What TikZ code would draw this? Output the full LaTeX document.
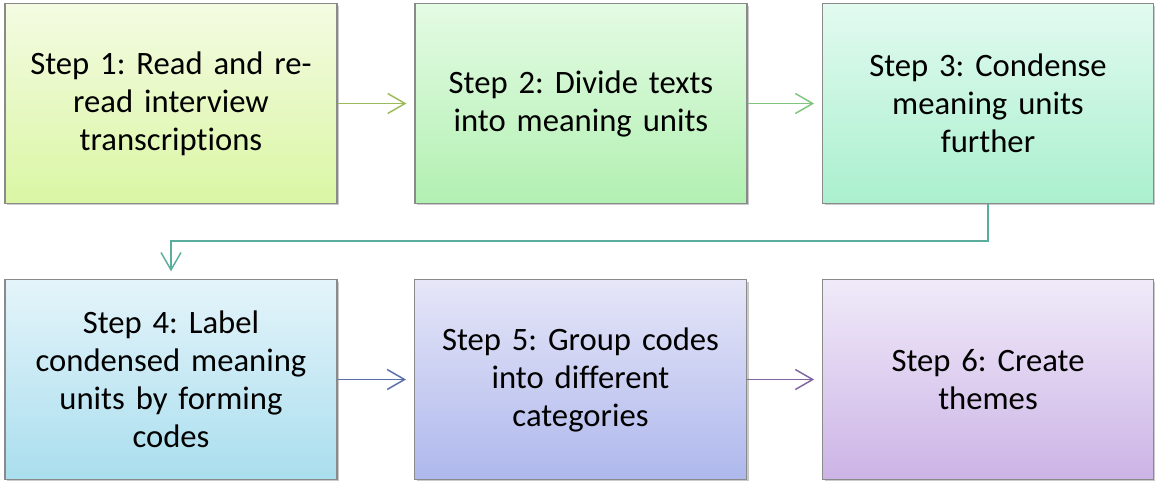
\documentclass[tikz,border=0pt]{standalone}
\usepackage{fontspec}
\setmainfont{Carlito}[Ligatures=NoCommon]
\usetikzlibrary{arrows.meta,shadows}
\definecolor{bordc}{HTML}{8A8A8A}
\definecolor{aone}{HTML}{9BBB59}
\definecolor{atwo}{HTML}{7FC47F}
\definecolor{athree}{HTML}{5BAE9E}
\definecolor{afour}{HTML}{5A6EAA}
\definecolor{afive}{HTML}{8064A2}
\tikzset{
  stepbox/.style={draw=bordc, line width=0.8pt, minimum width=249pt, minimum height=149.5pt,
    align=center, inner sep=4pt, text width=240pt,
    font=\frenchspacing\fontsize{24.5pt}{28.5pt}\selectfont,
    drop shadow={shadow xshift=1.5pt, shadow yshift=-1.5pt, opacity=0.35, fill=black!60}},
  conn/.style={line width=1.1pt, -{Straight Barb[length=13pt, width=15pt, line width=1.1pt]}}
}
\begin{document}
\begin{tikzpicture}[x=0.75pt,y=-0.75pt]
\useasboundingbox (0,0) rectangle (1156,482);
\node[stepbox, top color={rgb,255:red,244;green,251;blue,226}, bottom color={rgb,255:red,218;green,246;blue,164}] (s1) at (171,103.5) {Step 1: Read and re-\\read interview\\transcriptions};
\node[stepbox, top color={rgb,255:red,228;green,251;blue,228}, bottom color={rgb,255:red,178;green,240;blue,178}] (s2) at (581,103.5) {Step 2: Divide texts\\into meaning units};
\node[stepbox, minimum width=247.5pt, top color={rgb,255:red,226;green,250;blue,240}, bottom color={rgb,255:red,170;green,240;blue,206}] (s3) at (988,103.5) {Step 3: Condense\\meaning units\\further};
\node[stepbox, top color={rgb,255:red,228;green,244;blue,250}, bottom color={rgb,255:red,170;green,222;blue,238}] (s4) at (171,379.5) {Step 4: Label\\condensed meaning\\units by forming\\codes};
\node[stepbox, top color={rgb,255:red,230;green,230;blue,248}, bottom color={rgb,255:red,174;green,184;blue,236}] (s5) at (580.5,379.5) {Step 5: Group codes\\into different\\categories};
\node[stepbox, minimum width=247.5pt, top color={rgb,255:red,240;green,234;blue,249}, bottom color={rgb,255:red,204;green,180;blue,230}] (s6) at (988,379.5) {Step 6: Create\\themes};
\coordinate (c1) at (988,241);
\coordinate (c2) at (171,241);
\draw[conn, aone, shorten >=6pt] (s1.east) -- (s2.west);
\draw[conn, atwo, shorten >=6pt] (s2.east) -- (s3.west);
\draw[conn, athree, shorten >=6pt] (s3.south) -- (c1) -- (c2) -- (s4.north);
\draw[conn, afour, shorten >=6pt] (s4.east) -- (s5.west);
\draw[conn, afive, shorten >=6pt] (s5.east) -- (s6.west);
\end{tikzpicture}
\end{document}
